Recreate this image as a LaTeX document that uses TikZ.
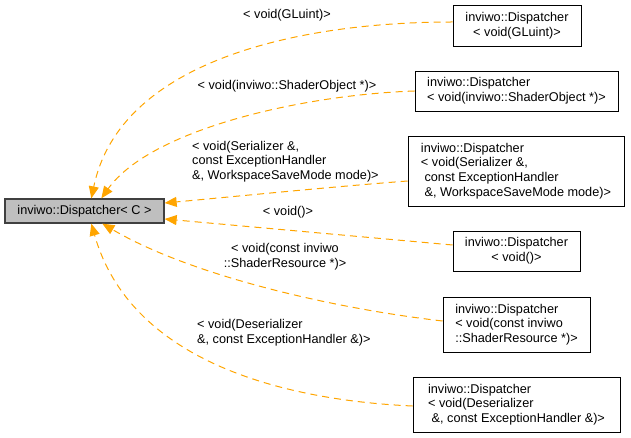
\documentclass[tikz,border=0pt]{standalone}
\usepackage{fontspec}
\setmainfont{Liberation Sans}
\usetikzlibrary{arrows.meta,calc}
\definecolor{edgeorange}{HTML}{FFA500}
\definecolor{basefill}{HTML}{BFBFBF}
\definecolor{baseline}{HTML}{404040}
\begin{document}
\begin{tikzpicture}[x=1pt,y=-1pt,
  every node/.style={font=\fontsize{12.7}{14.6}\selectfont},
  basebox/.style={draw=baseline,fill=basefill,line width=1.3pt,inner sep=0pt,minimum width=159pt,minimum height=24pt},
  derived/.style={draw=black,fill=white,line width=0.9pt,inner sep=0pt},
  edge/.style={draw=edgeorange,line width=1pt,dash pattern=on 7pt off 5pt,-{Triangle[length=12pt,width=10pt,fill=edgeorange]}},
  elabel/.style={inner sep=0pt}]
\useasboundingbox (0,0) rectangle (631,438);

\node[basebox] (main) at (84.5,211) {inviwo::Dispatcher< C >};

\node[derived,align=center,minimum width=128pt,minimum height=41pt] (t1) at (517,25.5)
  {inviwo::Dispatcher\\< void(GLuint)>};
\node[derived,align=left,minimum width=203pt,minimum height=40pt] (t2) at (516.5,91)
  {inviwo::Dispatcher\\< void(inviwo::ShaderObject *)>};
\node[derived,align=left,minimum width=216pt,minimum height=70pt] (t3) at (516,171)
  {inviwo::Dispatcher\\< void(Serializer \&,\\\hspace*{0.28em}const ExceptionHandler\\\hspace*{0.28em}\&, WorkspaceSaveMode mode)>};
\node[derived,align=center,minimum width=127pt,minimum height=40pt] (t4) at (516.5,251)
  {inviwo::Dispatcher\\< void()>};
\node[derived,align=left,minimum width=147pt,minimum height=55pt] (t5) at (516.5,324.5)
  {inviwo::Dispatcher\\< void(const inviwo\\::ShaderResource *)>};
\node[derived,align=left,minimum width=207pt,minimum height=55pt] (t6) at (516.5,404.5)
  {inviwo::Dispatcher\\< void(Deserializer\\\hspace*{0.28em}\&, const ExceptionHandler \&)>};

\node[elabel] (l1) at (287,15) {< void(GLuint)>};
\node[elabel] (l2) at (287,86) {< void(inviwo::ShaderObject *)>};
\node[elabel,align=left,anchor=west] (l3) at (192,161.5) {< void(Serializer \&,\\const ExceptionHandler\\\&, WorkspaceSaveMode mode)>};
\node[elabel] (l4) at (288,212) {< void()>};
\node[elabel,align=center] (l5) at (285,257) {< void(const inviwo\\::ShaderResource *)>};
\node[elabel,align=left,anchor=west] (l6) at (197,333) {< void(Deserializer\\\&, const ExceptionHandler \&)>};

\draw[edge] ([yshift=3.5pt]t1.west) .. controls (300,22) and (120,60) .. ($(main.north west)+(87,0)$);
\draw[edge] (t2.west) .. controls (300,95) and (150,130) .. ($(main.north west)+(97,0)$);
\draw[edge] ([yshift=-10pt]t3.west) .. controls (330,187) and (240,196) .. ($(main.east)+(0,-8)$);
\draw[edge] ([yshift=6pt]t4.west) -- ($(main.east)+(0,8)$);
\draw[edge] ([yshift=3.5pt]t5.west) .. controls (330,308) and (190,275) .. ($(main.south west)+(98,0)$);
\draw[edge] ([yshift=-1.5pt]t6.west) .. controls (280,400) and (130,360) .. ($(main.south west)+(87,0)$);
\end{tikzpicture}
\end{document}
